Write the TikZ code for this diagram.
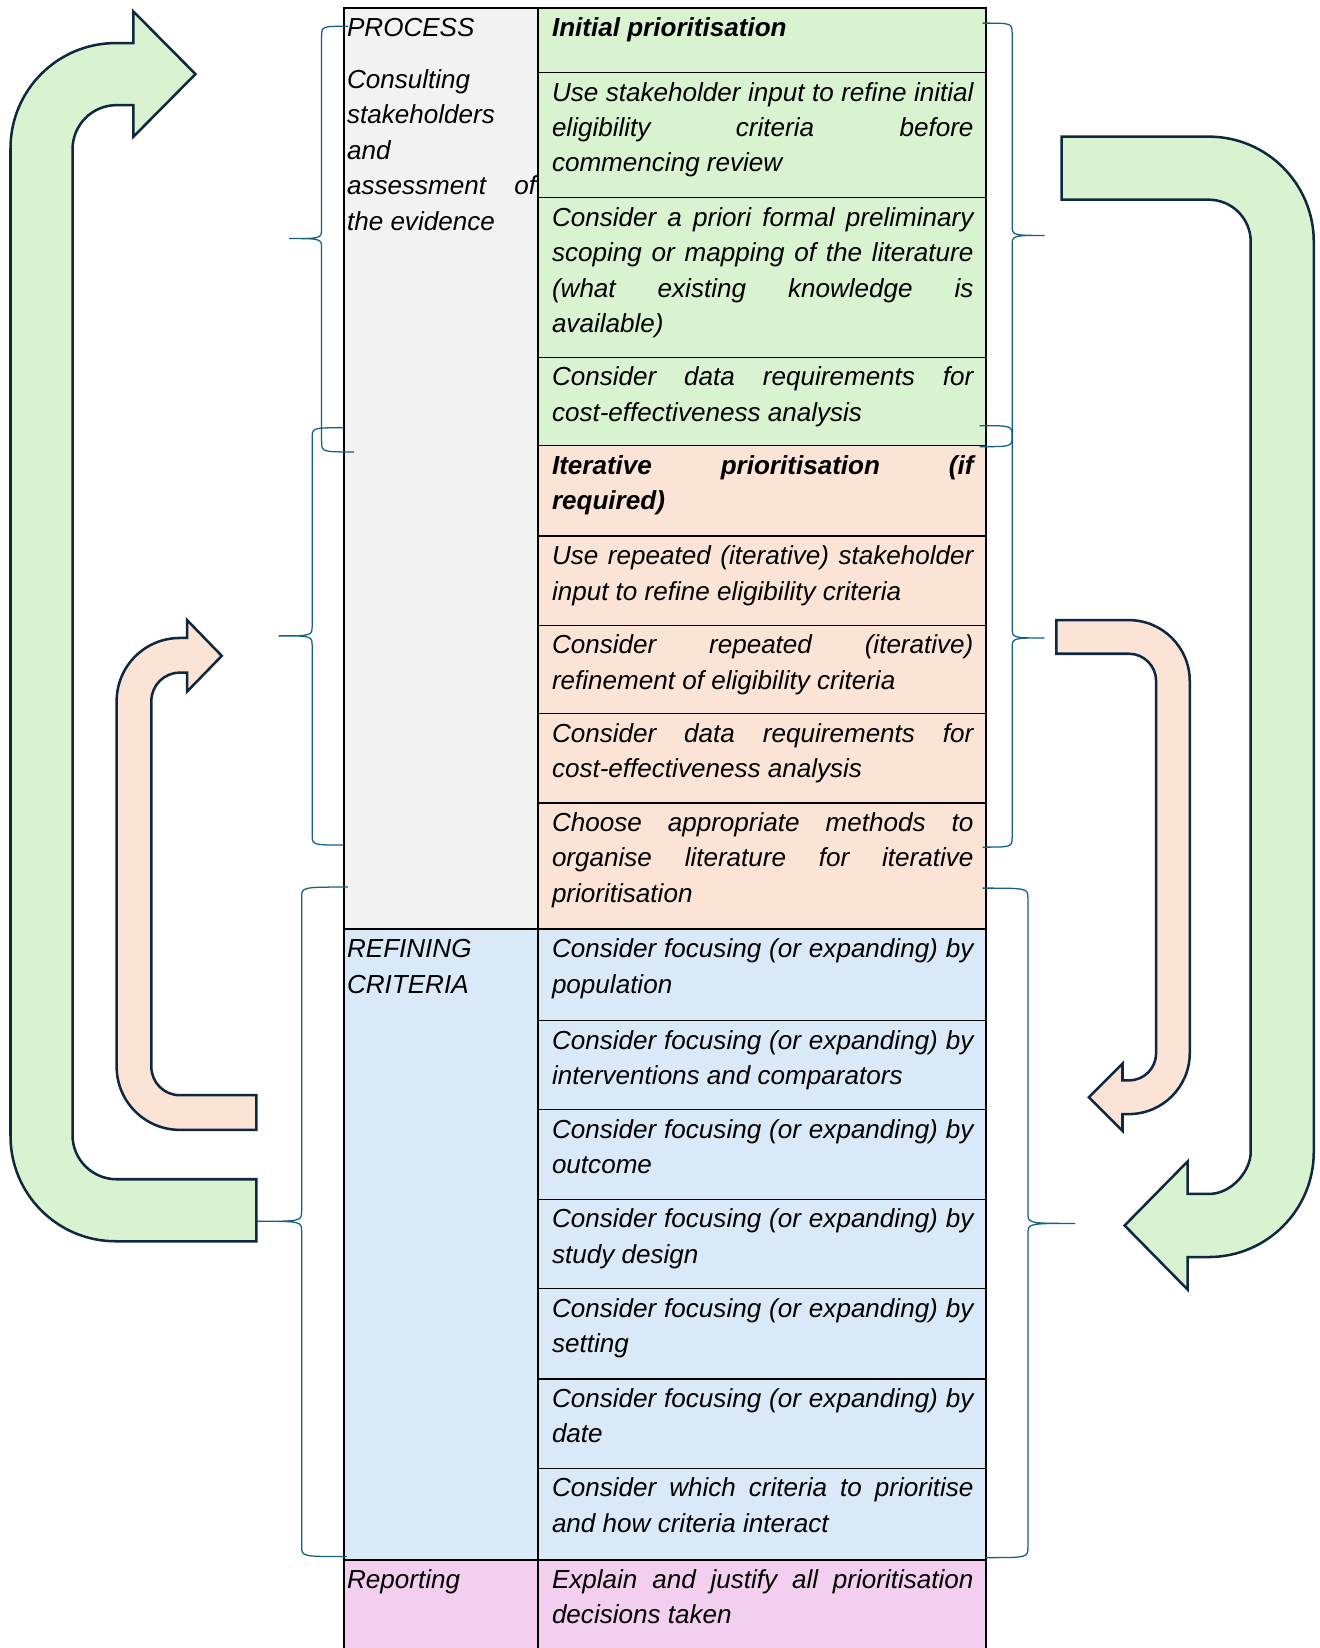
\documentclass[tikz,border=0pt]{standalone}
\usepackage{fontspec}
\setmainfont{Liberation Sans}
\definecolor{gfill}{HTML}{D9F2D0}
\definecolor{pfill}{HTML}{FBE3D6}
\definecolor{bfill}{HTML}{DAE9F8}
\definecolor{mfill}{HTML}{F2CEEF}
\definecolor{grfill}{HTML}{F2F2F2}
\definecolor{arrline}{HTML}{0E2841}
\definecolor{brline}{HTML}{156082}
\newcommand\mybrace[7]{%
  \draw[brace] (#1,#2) .. controls (#3,#2) .. (#3,#2+10) -- (#3,#5-10)
    .. controls (#3,#5) .. (#4,#5) .. controls (#3,#5) .. (#3,#5+10)
    -- (#3,#7-10) .. controls (#3,#7) .. (#6,#7);}
\begin{document}
\begin{tikzpicture}[x=1pt,y=-1pt,
  txt/.style={anchor=north west, inner sep=0pt, align=justify, text width=#1,
     font=\fontsize{24.8}{33.7}\selectfont\itshape,
     execute at begin node={\tolerance=10000\hbadness=10000\strut}},
  txt/.default=401pt,
  gridline/.style={line width=1.1pt, black},
  frame/.style={line width=1.8pt, black},
  brace/.style={brline, line width=1.2pt},
  barrow/.style={draw=arrline, line width=2.4pt, line join=miter},
]
\useasboundingbox (0,0) rectangle (1255,1568);
% fills
\fill[grfill] (327,8) rectangle (512,884);
\fill[bfill] (327,884) rectangle (938,1484);
\fill[mfill] (327,1484) rectangle (938,1580);
\fill[gfill] (512,8) rectangle (938,424);
\fill[pfill] (512,424) rectangle (938,884);
% grid
\foreach \yy in {69,188,340,424,510,595,679,764,971,1056,1141,1226,1312,1397}
  \draw[gridline] (512,\yy) -- (938,\yy);
\draw[frame] (327,884) -- (938,884);
\draw[frame] (327,1484) -- (938,1484);
\draw[frame] (327,1580) -- (327,8) -- (938,8) -- (938,1580);
\draw[line width=1.5pt] (512,8) -- (512,1580);
% left column texts
\node[txt=180pt] (l1) at (330,11.4) {PROCESS};
\node[txt=180pt] (l2) at (330,60.4) {Consulting\\ stakeholders\\ and\\ assessment of\linebreak the evidence};
\node[txt=180pt] (l3) at (330,887.4) {REFINING\\ CRITERIA};
\node[txt=180pt] (l4) at (330,1487.4) {Reporting};
% right column texts
\node[txt] (r1) at (525,11.4) {\textbf{Initial prioritisation}};
\node[txt] (r2) at (525,72.4) {Use stakeholder input to refine initial\linebreak eligibility criteria before\linebreak commencing review};
\node[txt] (r3) at (525,191.4) {Consider a priori formal preliminary\linebreak scoping or mapping of the literature\linebreak (what existing knowledge is\linebreak available)};
\node[txt] (r4) at (525,343.4) {Consider data requirements for\linebreak cost-effectiveness analysis};
\node[txt] (r5) at (525,427.4) {\textbf{Iterative prioritisation (if\linebreak required)}};
\node[txt] (r6) at (525,513.4) {Use repeated (iterative) stakeholder\linebreak input to refine eligibility criteria};
\node[txt] (r7) at (525,598.4) {Consider repeated (iterative)\linebreak refinement of eligibility criteria};
\node[txt] (r8) at (525,682.4) {Consider data requirements for\linebreak cost-effectiveness analysis};
\node[txt] (r9) at (525,767.4) {Choose appropriate methods to\linebreak organise literature for iterative\linebreak prioritisation};
\node[txt] (r10) at (525,887.4) {Consider focusing (or expanding) by\linebreak population};
\node[txt] (r11) at (525,974.4) {Consider focusing (or expanding) by\linebreak interventions and comparators};
\node[txt] (r12) at (525,1059.4) {Consider focusing (or expanding) by\linebreak outcome};
\node[txt] (r13) at (525,1144.4) {Consider focusing (or expanding) by\linebreak study design};
\node[txt] (r14) at (525,1229.4) {Consider focusing (or expanding) by\linebreak setting};
\node[txt] (r15) at (525,1315.4) {Consider focusing (or expanding) by\linebreak date};
\node[txt] (r16) at (525,1400.4) {Consider which criteria to prioritise\linebreak and how criteria interact};
\node[txt] (r17) at (525,1487.4) {Explain and justify all prioritisation\linebreak decisions taken};
% braces
\mybrace{331}{25}{306}{275}{227}{337}{430}
\mybrace{327}{407}{297}{265}{605}{327}{804}
\mybrace{331}{844}{287}{244}{1162}{330}{1481}
\mybrace{935}{22}{963}{994}{224}{932}{425}
\mybrace{932}{405}{963}{994}{607}{935}{806}
\mybrace{935}{845}{978}{1023}{1164}{938}{1482}
% green left arrow
\filldraw[barrow, fill=gfill] (244,1181) -- (110,1181)
  .. controls (54.8,1181) and (10,1136.2) .. (10,1081) -- (10,141)
  .. controls (10,85.8) and (54.8,41) .. (110,41) -- (127,41) -- (127,11)
  -- (186,70.5) -- (127,130) -- (127,100) -- (111,100)
  .. controls (87.8,100) and (69,118.8) .. (69,142) -- (69,1080)
  .. controls (69,1103.2) and (87.8,1122) .. (111,1122) -- (244,1122) -- cycle;
% green right arrow
\filldraw[barrow, fill=gfill] (1010,130) -- (1150,130)
  .. controls (1205.2,130) and (1250,174.8) .. (1250,230) -- (1250,1096)
  .. controls (1250,1151.2) and (1205.2,1196) .. (1150,1196) -- (1130,1196) -- (1130,1227)
  -- (1070,1166) -- (1130,1105) -- (1130,1136) -- (1150,1136)
  .. controls (1172.1,1136) and (1190,1113.9) .. (1190,1096) -- (1190,230)
  .. controls (1190,207.9) and (1172.1,190) .. (1150,190) -- (1010,190) -- cycle;
% peach left arrow
\filldraw[barrow, fill=pfill] (244,1075) -- (171,1075)
  .. controls (137.9,1075) and (111,1048.1) .. (111,1015) -- (111,667)
  .. controls (111,633.9) and (137.9,607) .. (171,607) -- (178,607) -- (178,590)
  -- (211,624) -- (178,658) -- (178,640) -- (171,640)
  .. controls (156.1,640) and (144,652.1) .. (144,667) -- (144,1015)
  .. controls (144,1029.9) and (156.1,1042) .. (171,1042) -- (244,1042) -- cycle;
% peach right arrow
\filldraw[barrow, fill=pfill] (1005,590) -- (1074,590)
  .. controls (1106,590) and (1132,616) .. (1132,648) -- (1132,1002)
  .. controls (1132,1034) and (1106,1060) .. (1074,1060) -- (1068,1060) -- (1068,1076)
  -- (1036,1044) -- (1068,1012) -- (1068,1028) -- (1074,1028)
  .. controls (1088.4,1028) and (1100,1016.4) .. (1100,1002) -- (1100,648)
  .. controls (1100,633.6) and (1088.4,622) .. (1074,622) -- (1005,622) -- cycle;
\end{tikzpicture}
\end{document}
